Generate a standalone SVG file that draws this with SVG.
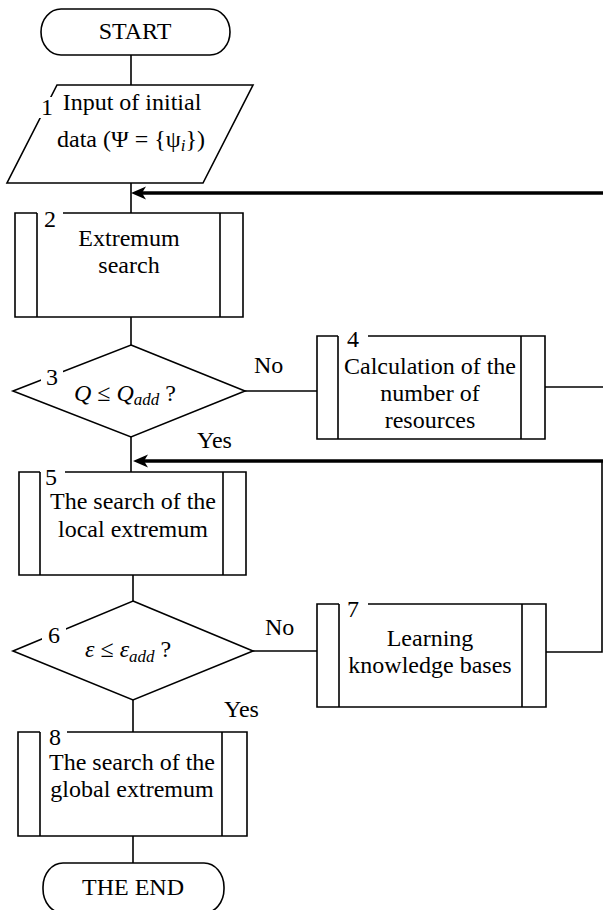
<svg xmlns="http://www.w3.org/2000/svg" width="603" height="910" viewBox="0 0 603 910">
<style>
.s{fill:none;stroke:#000;stroke-width:1.6}
.w{fill:#fff;stroke:none}
.t{font-family:"Liberation Serif","Times New Roman",serif;font-size:24px;fill:#000}
.c{text-anchor:middle}
.i{font-style:italic}
.sub{font-size:17px;font-style:italic}
.th{fill:none;stroke:#000;stroke-width:3.6}
</style>
<defs>
<marker id="ah" markerUnits="userSpaceOnUse" markerWidth="16" markerHeight="14" viewBox="0 -7 16 14" refX="4" refY="0" orient="auto">
<path d="M15,0 L0,-6.5 L4,0 L0,6.5 Z" fill="#000"/>
</marker>
</defs>
<rect width="603" height="910" fill="#fff"/>
<g id="connectors">
<path class="s" d="M131,55 V85"/>
<path class="s" d="M131,183 V213"/>
<path class="s" d="M131,317 V345"/>
<path class="s" d="M131,437 V472"/>
<path class="s" d="M133,575 V601"/>
<path class="s" d="M133,700 V732"/>
<path class="s" d="M133,836 V863"/>
<path class="s" d="M245,391 H317"/>
<path class="s" d="M545,387 H603"/>
<path class="s" d="M253,651 H317"/>
<path class="s" d="M546,652 H602 V461"/>
<path class="th" d="M603,193 H142" marker-end="url(#ah)"/>
<path class="th" d="M603,461 H144" marker-end="url(#ah)"/>
<text class="t" x="254" y="373">No</text>
<text class="t" x="265" y="635">No</text>
<text class="t" x="197" y="448">Yes</text>
<text class="t" x="224" y="717">Yes</text>
</g>
<g id="start">
<rect class="s" x="41" y="9" width="189" height="46" rx="20" ry="23"/>
<text class="t c" x="135" y="39">START</text>
</g>
<g id="n1">
<polygon class="s" points="57,85 253,85 203,183 7,183"/>
<rect class="w" x="38" y="97" width="16" height="21"/>
<text class="t" x="41" y="115">1</text>
<text class="t c" x="132" y="110">Input of initial</text>
<text class="t c" x="131" y="147">data (Ψ = {ψ<tspan class="sub" dy="4">i</tspan><tspan dy="-4">})</tspan></text>
</g>
<g id="n2">
<path class="s" d="M63,213 H243 V317 H15 V213 H37 M37,213 V317 M220,213 V317"/>
<text class="t" x="44" y="227">2</text>
<text class="t c" x="129" y="246">Extremum</text>
<text class="t c" x="129" y="273">search</text>
</g>
<g id="n3">
<polygon class="s" points="131,345 245,391 131,437 13,391"/>
<rect class="w" x="41" y="366" width="22" height="21"/>
<text class="t" x="46" y="385">3</text>
<text class="t" x="74" y="401"><tspan class="i">Q</tspan> ≤ <tspan class="i">Q</tspan><tspan class="sub" dy="4">add</tspan><tspan dy="-4"> ?</tspan></text>
</g>
<g id="n4">
<path class="s" d="M368,336 H545 V439 H317 V336 H338 M338,336 V439 M521,336 V439"/>
<text class="t" x="347" y="347">4</text>
<text class="t c" x="430" y="374">Calculation of the</text>
<text class="t c" x="430" y="401">number of</text>
<text class="t c" x="430" y="428">resources</text>
</g>
<g id="n5">
<path class="s" d="M65,472 H246 V575 H19 V472 H40 M40,472 V575 M223,472 V575"/>
<text class="t" x="45" y="485">5</text>
<text class="t c" x="133" y="509">The search of the</text>
<text class="t c" x="133" y="537">local extremum</text>
</g>
<g id="n6">
<polygon class="s" points="133,601 253,651 133,700 13,651"/>
<rect class="w" x="42" y="624" width="24" height="21"/>
<text class="t" x="48" y="643">6</text>
<text class="t" x="85" y="657"><tspan class="i">ε</tspan> ≤ <tspan class="i">ε</tspan><tspan class="sub" dy="5">add</tspan><tspan dy="-5"> ?</tspan></text>
</g>
<g id="n7">
<path class="s" d="M368,604 H546 V707 H317 V604 H339 M339,604 V707 M522,604 V707"/>
<text class="t" x="347" y="617">7</text>
<text class="t c" x="430" y="646">Learning</text>
<text class="t c" x="430" y="673">knowledge bases</text>
</g>
<g id="n8">
<path class="s" d="M67,732 H247 V836 H18 V732 H40 M40,732 V836 M222,732 V836"/>
<text class="t" x="49" y="745">8</text>
<text class="t c" x="132" y="770">The search of the</text>
<text class="t c" x="132" y="797">global extremum</text>
</g>
<g id="end">
<rect class="s" x="43" y="863" width="181" height="50" rx="20" ry="24"/>
<text class="t c" x="133" y="895">THE END</text>
</g>
</svg>
